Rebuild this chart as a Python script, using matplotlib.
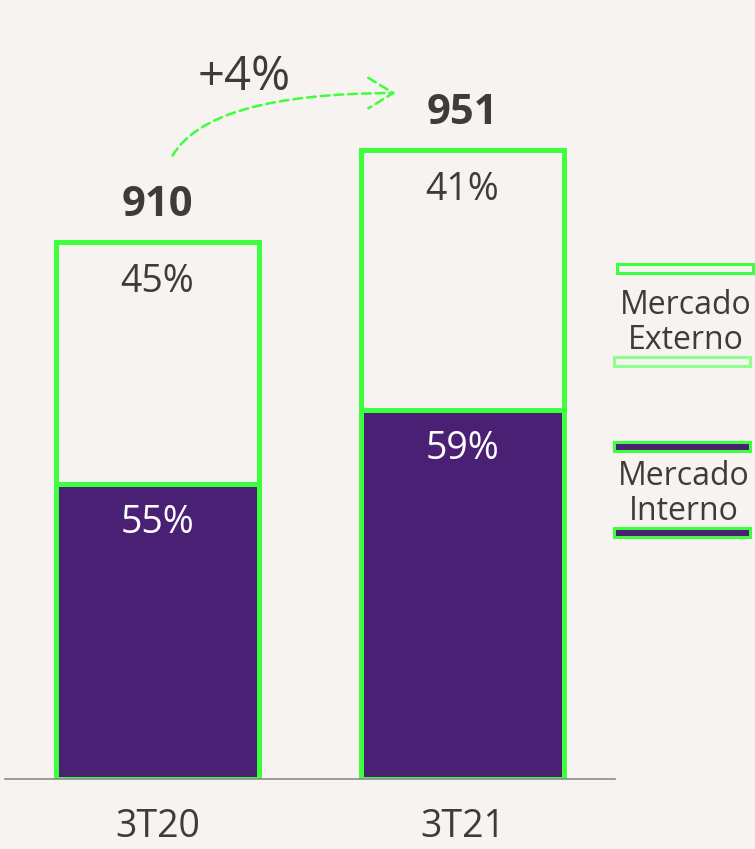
import matplotlib.pyplot as plt
from matplotlib.patches import Rectangle, FancyArrowPatch

# dados
categorias = ['3T20', '3T21']
totais = [910, 951]
pct_interno = [55, 59]
pct_externo = [45, 41]
# alturas dos segmentos como desenhadas no grafico original (nao proporcional)
alt_interno = [295, 369]
alt_externo = [242, 260]
variacao = '+4%'

# cores
fundo = '#F6F3F0'
roxo = '#4A2075'
verde = '#3DFF3D'
verde_claro = '#8CFF8C'
texto = '#3F3B3B'

plt.rcParams['font.family'] = ['Open Sans', 'DejaVu Sans']

W, H = 755, 849
fig = plt.figure(figsize=(W / 100, H / 100), dpi=100, facecolor=fundo)
ax = fig.add_axes([5 / W, 70 / H, 610 / W, 779 / H])
ax.set_facecolor(fundo)

x = list(range(len(categorias)))
largura = 0.667

ax.bar(x, alt_interno, width=largura, color=roxo, edgecolor=verde, linewidth=3.6, zorder=2)
ax.bar(x, alt_externo, width=largura, bottom=alt_interno, color=fundo, edgecolor=verde,
       linewidth=3.6, zorder=2)

for i in x:
    topo = alt_interno[i] + alt_externo[i]
    ax.text(i, topo + 37, str(totais[i]), ha='center', va='center', fontsize=30,
            fontweight='bold', color=texto)
    ax.text(i, topo - 40, f'{pct_externo[i]}%', ha='center', va='center', fontsize=27,
            color=texto)
    ax.text(i, alt_interno[i] - 39, f'{pct_interno[i]}%', ha='center', va='center',
            fontsize=27, color='white')

ax.set_xlim(-0.5, 1.5)
ax.set_ylim(0, 779)
ax.set_xticks(x)
ax.set_xticklabels(categorias, fontsize=27, color=texto)
ax.tick_params(axis='x', length=0, pad=21)
ax.set_yticks([])
for s in ['top', 'left', 'right']:
    ax.spines[s].set_visible(False)
ax.spines['bottom'].set_color('#8C8C8C')
ax.spines['bottom'].set_linewidth(1.2)

# seta de crescimento
topo0 = alt_interno[0] + alt_externo[0]
topo1 = alt_interno[1] + alt_externo[1]
seta = FancyArrowPatch((0.045, topo0 + 84), (0.79, topo1 + 57),
                       connectionstyle='angle3,angleA=62,angleB=0',
                       arrowstyle='->,head_length=9,head_width=5.5', color=verde,
                       linestyle=(0, (3.5, 2)), linewidth=1.8, mutation_scale=2,
                       clip_on=False, zorder=3)
ax.add_patch(seta)
ax.text(0.285, topo1 + 73, variacao, ha='center', va='center', fontsize=34,
        color=texto)

# legenda
def rect(x0, y0, x1, y1, face, edge):
    fig.add_artist(Rectangle((x0 / W, 1 - y1 / H), (x1 - x0) / W, (y1 - y0) / H,
                             transform=fig.transFigure, facecolor=face, edgecolor=edge,
                             linewidth=2.2))

rect(617, 264, 753, 273, fundo, verde)
rect(614, 357, 750, 366, fundo, verde_claro)
rect(614, 442, 750, 451, roxo, verde)
rect(614, 528, 750, 537, roxo, verde)
fig.text(686 / W, 1 - 323 / H, 'Mercado\nExterno', ha='center', va='center', fontsize=23,
         color=texto, linespacing=1.05)
fig.text(684 / W, 1 - 494 / H, 'Mercado\nInterno', ha='center', va='center', fontsize=23,
         color=texto, linespacing=1.05)

fig.savefig('out.png', dpi=100, facecolor=fundo)
